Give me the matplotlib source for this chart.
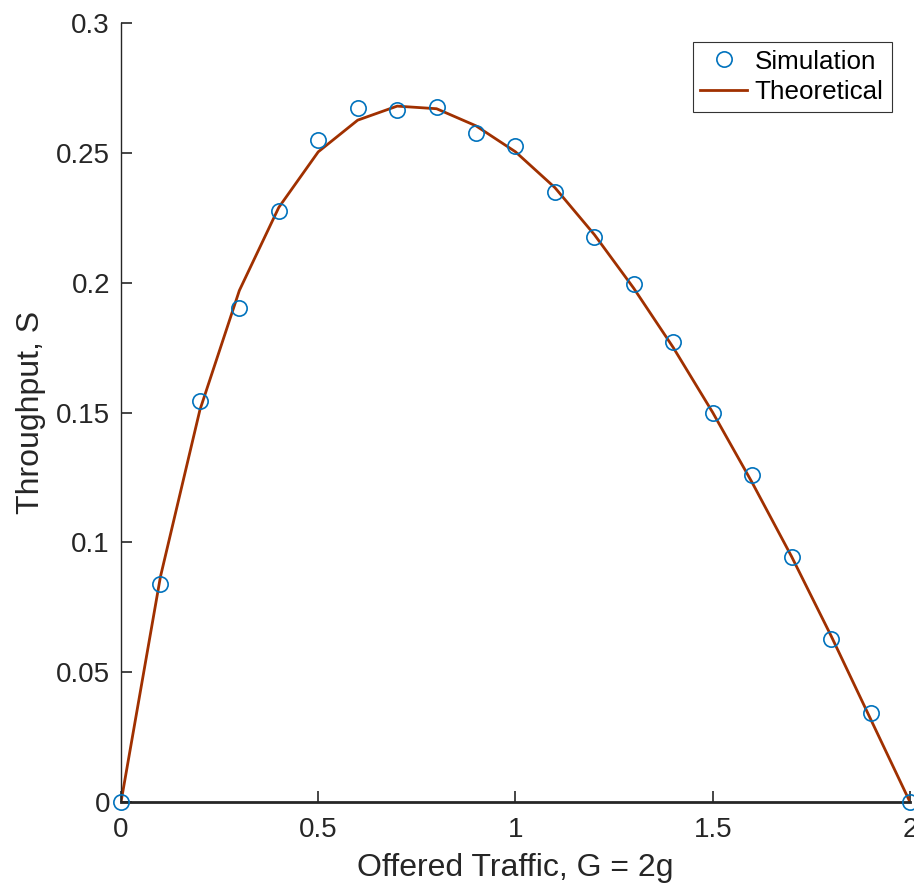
import matplotlib
matplotlib.use("Agg")
import matplotlib.pyplot as plt
import numpy as np

plt.rcParams['font.family'] = ['Liberation Sans', 'DejaVu Sans']

# Offered traffic G
G = [0.0, 0.1, 0.2, 0.3, 0.4, 0.5, 0.6, 0.7, 0.8, 0.9, 1.0,
     1.1, 1.2, 1.3, 1.4, 1.5, 1.6, 1.7, 1.8, 1.9, 2.0]

# Simulated throughput (circles)
S_sim = [0.0, 0.0840, 0.1543, 0.1902, 0.2277, 0.2548, 0.2672, 0.2665, 0.2676, 0.2577, 0.2526,
         0.2349, 0.2177, 0.1995, 0.1771, 0.1497, 0.1260, 0.0945, 0.0628, 0.0341, 0.0]

# Theoretical throughput (line)
S_theory = [0.0, 0.0868, 0.1510, 0.1970, 0.2290, 0.2504, 0.2626, 0.2680, 0.2670, 0.2604, 0.2504,
            0.2366, 0.2185, 0.1978, 0.1750, 0.1500, 0.1230, 0.0945, 0.0640, 0.0320, 0.0]

blue = '#0072BD'
brown = '#A03000'
dark = '#262626'

fig = plt.figure(figsize=(9.14, 8.86), dpi=100)
ax = fig.add_axes([0.1324, 0.0948, 0.8632, 0.8792])

ax.plot(G, S_sim, 'o', markersize=11, markerfacecolor='none', markeredgecolor=blue,
        markeredgewidth=1.2, label='Simulation', zorder=3, clip_on=False)
ax.plot(G, S_theory, '-', color=brown, linewidth=2, label='Theoretical', zorder=2)

ax.set_xlim(0, 2)
ax.set_ylim(0, 0.3)
ax.set_xticks([0, 0.5, 1, 1.5, 2])
ax.set_xticklabels(['0', '0.5', '1', '1.5', '2'])
ax.set_yticks([0, 0.05, 0.1, 0.15, 0.2, 0.25, 0.3])
ax.set_yticklabels(['0', '0.05', '0.1', '0.15', '0.2', '0.25', '0.3'])

for spine in ax.spines.values():
    spine.set_visible(False)
ax.spines['left'].set_visible(True)
ax.spines['bottom'].set_visible(True)
ax.spines['left'].set_color(dark)
ax.spines['left'].set_linewidth(1.0)
ax.spines['bottom'].set_color(dark)
ax.spines['bottom'].set_linewidth(2.0)

ax.tick_params(direction='in', length=8, width=1.2, colors=dark, labelsize=20)
ax.tick_params(axis='y', pad=8)
ax.tick_params(axis='x', pad=11)

ax.set_xlabel('Offered Traffic, G = 2g', fontsize=23, color=dark, labelpad=7)
ax.set_ylabel('Throughput, S', fontsize=23, color=dark, labelpad=7)

leg = ax.legend(loc='upper right', bbox_to_anchor=(0.9766, 0.976), fontsize=18.7, frameon=True,
                fancybox=False, edgecolor='#333333', framealpha=1, handlelength=1.8,
                handletextpad=0.3, borderpad=0.3, labelspacing=0.25, borderaxespad=0)
leg.get_frame().set_linewidth(0.8)

fig.savefig('out.png', dpi=100)
